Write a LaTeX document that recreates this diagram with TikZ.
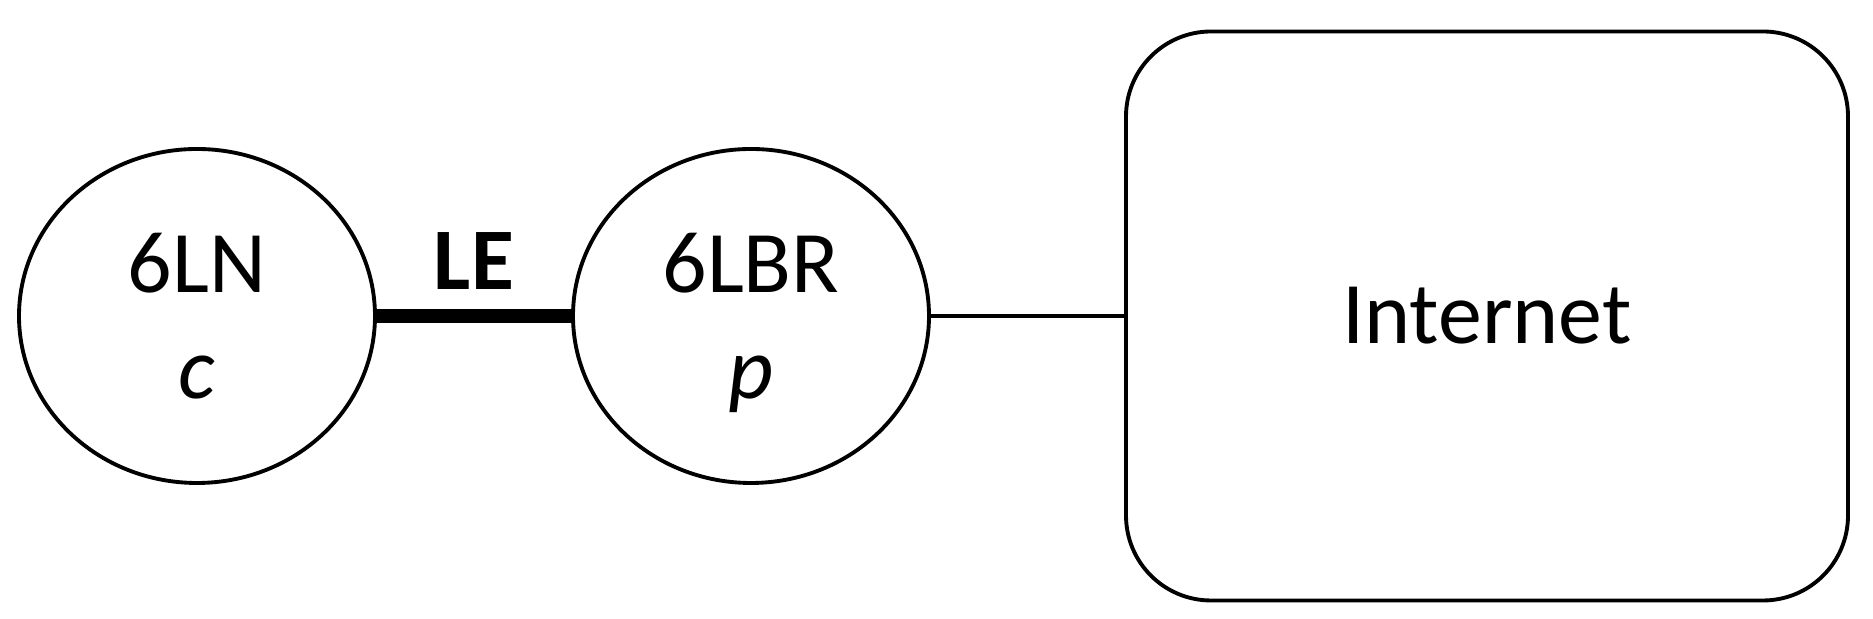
\documentclass[tikz,border=0pt]{standalone}
\usepackage{fontspec}
\setmainfont{Carlito}
\usetikzlibrary{positioning, shapes.geometric}

\begin{document}
\begin{tikzpicture}[node distance=5.54cm,
	every node/.style={font=\fontsize{25}{30.3}\selectfont},
	device/.style={ellipse, draw, line width=1.1pt, minimum width=3.56cm, minimum height=3.34cm, inner sep=0pt, align=center, text depth=0pt},
	cloudbox/.style={rectangle, draw, rounded corners=0.85cm, line width=1.1pt, minimum width=7.22cm, minimum height=5.69cm},
	every edge/.append style={line width=1.1pt}]
	\useasboundingbox (0,0) rectangle (18.73,-6.19);
	
	\node[device] (ln) at (1.97,-3.16) {6LN\\\textit{c}};
	\node[device] (br) [right of=ln] {6LBR\\\textit{p}};
	\node[cloudbox] (net) [right of=br, node distance=7.36cm] {Internet};
	
	\path(ln) 	edge[line width=4pt] node[above, inner sep=5.5pt, font=\fontsize{25}{30.3}\selectfont\bfseries] {LE} (br);
	\path(br) 	edge node{} (net);
\end{tikzpicture}
\end{document}
